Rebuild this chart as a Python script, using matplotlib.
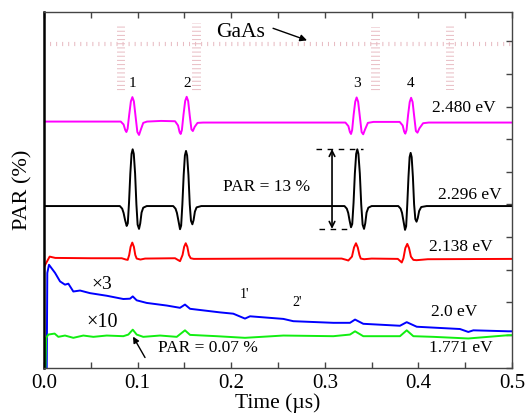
import matplotlib.pyplot as plt
from matplotlib.patches import Rectangle
from matplotlib.ticker import MultipleLocator

plt.rcParams['font.family'] = ['Liberation Serif', 'DejaVu Serif']
plt.rcParams['hatch.linewidth'] = 0.7

# GaAs reference (dotted, top)
gaas_t = [0.0, 0.5]
gaas_y = [9.93, 9.93]
# oscillation packets: centre time, bottom, top
gaas_pk_t = [0.082, 0.163, 0.354, 0.434]
gaas_pk_lo = [8.44, 8.41, 8.44, 8.50]
gaas_pk_hi = [10.49, 10.55, 10.43, 10.49]

# 2.480 eV (magenta)
m_t = [0.0, 0.06,
       0.082, 0.0850, 0.0868, 0.0880, 0.0893, 0.0910, 0.0928, 0.0944, 0.0960,
       0.0978, 0.0997, 0.1015, 0.1035, 0.106, 0.110, 0.125,
       0.140, 0.1432, 0.1448, 0.1460, 0.1473, 0.1490, 0.1508, 0.1524, 0.1540,
       0.1557, 0.1575, 0.1590, 0.1610, 0.164, 0.170, 0.25,
       0.322, 0.3252, 0.3268, 0.3280, 0.3292, 0.3308, 0.3325, 0.3340, 0.3356,
       0.3374, 0.3393, 0.3410, 0.3430, 0.346, 0.352, 0.37,
       0.380, 0.3832, 0.3848, 0.3860, 0.3873, 0.3890, 0.3907, 0.3922, 0.3938,
       0.3955, 0.3973, 0.3990, 0.4010, 0.405, 0.411, 0.5]
m_y = [7.54, 7.54,
       7.54, 7.45, 7.28, 7.22, 7.32, 7.75, 8.16, 8.29, 8.16,
       7.70, 7.22, 7.13, 7.30, 7.50, 7.54, 7.56,
       7.55, 7.42, 7.22, 7.16, 7.28, 7.75, 8.17, 8.30, 8.17,
       7.72, 7.30, 7.25, 7.38, 7.50, 7.51, 7.51,
       7.51, 7.40, 7.22, 7.16, 7.28, 7.75, 8.15, 8.28, 8.15,
       7.70, 7.22, 7.15, 7.30, 7.50, 7.53, 7.53,
       7.53, 7.42, 7.23, 7.17, 7.28, 7.75, 8.14, 8.27, 8.14,
       7.70, 7.25, 7.20, 7.33, 7.49, 7.51, 7.51]

# 2.296 eV (black)
k_t = [0.0,
       0.081, 0.0835, 0.0850, 0.0866, 0.0883, 0.0895, 0.0908, 0.0922, 0.0935, 0.0947,
       0.0959, 0.0973, 0.0987, 0.1000, 0.1015, 0.1028, 0.1042, 0.1060, 0.1097,
       0.138, 0.1405, 0.1420, 0.1436, 0.1453, 0.1465, 0.1478, 0.1492, 0.1505, 0.1517,
       0.1529, 0.1543, 0.1557, 0.1570, 0.1585, 0.1598, 0.1612, 0.1630, 0.168,
       0.3210, 0.3235, 0.3250, 0.3265, 0.3280, 0.3293, 0.3307, 0.3321, 0.3335, 0.3347,
       0.3359, 0.3374, 0.3389, 0.3404, 0.3419, 0.3432, 0.3446, 0.3465, 0.350,
       0.3785, 0.3810, 0.3825, 0.3841, 0.3857, 0.3869, 0.3881, 0.3894, 0.3906, 0.3917,
       0.3928, 0.3941, 0.3954, 0.3967, 0.3980, 0.3993, 0.4008, 0.4030, 0.4088,
       0.5]
k_y = [4.95,
       4.95, 4.87, 4.74, 4.52, 4.34, 4.42, 5.05, 5.95, 6.55, 6.69,
       6.55, 5.95, 5.00, 4.38, 4.25, 4.42, 4.75, 4.90, 4.95,
       4.95, 4.87, 4.74, 4.50, 4.24, 4.35, 5.00, 5.90, 6.50, 6.64,
       6.50, 5.90, 5.00, 4.50, 4.39, 4.52, 4.78, 4.91, 4.95,
       4.95, 4.87, 4.74, 4.50, 4.30, 4.40, 5.05, 5.95, 6.55, 6.69,
       6.55, 5.95, 5.00, 4.38, 4.25, 4.42, 4.75, 4.90, 4.95,
       4.95, 4.87, 4.74, 4.48, 4.22, 4.33, 5.00, 5.85, 6.45, 6.58,
       6.45, 5.85, 5.00, 4.55, 4.47, 4.58, 4.80, 4.92, 4.95,
       4.95]

# 2.138 eV (red)
r_t = [0.0003, 0.006, 0.012, 0.05,
       0.083, 0.0875, 0.0894, 0.0910, 0.0925, 0.0943, 0.0960, 0.0975, 0.0990, 0.103, 0.108,
       0.140, 0.1435, 0.1453, 0.1480, 0.1497, 0.1514, 0.1531, 0.1548, 0.1567, 0.160, 0.25,
       0.318, 0.3230, 0.3251, 0.3290, 0.3312, 0.3333, 0.3352, 0.3370, 0.3384, 0.342, 0.35,
       0.378, 0.3822, 0.3840, 0.3860, 0.3881, 0.3900, 0.3920, 0.3946, 0.398, 0.41, 0.5]
r_y = [3.10, 3.40, 3.36, 3.35,
       3.35, 3.31, 3.30, 3.45, 3.70, 3.83, 3.70, 3.45, 3.34, 3.31, 3.34,
       3.35, 3.29, 3.26, 3.45, 3.70, 3.81, 3.70, 3.45, 3.35, 3.33, 3.34,
       3.34, 3.30, 3.28, 3.40, 3.68, 3.81, 3.68, 3.45, 3.34, 3.32, 3.34,
       3.33, 3.22, 3.35, 3.66, 3.79, 3.66, 3.40, 3.30, 3.29, 3.32, 3.33]

# 2.0 eV (blue, x3)
b_t = [0.0028, 0.0035, 0.0053, 0.0118, 0.0171, 0.0224, 0.026, 0.0313, 0.0385,
       0.0491, 0.067, 0.0847, 0.0919, 0.0948, 0.099, 0.1097, 0.1311, 0.1453,
       0.1506, 0.156, 0.188, 0.2022, 0.2147, 0.2201, 0.2557, 0.2663, 0.3091,
       0.3269, 0.3323, 0.3411, 0.3803, 0.3875, 0.3982, 0.4444, 0.4533, 0.4587,
       0.496, 0.5]
b_y = [-0.5, 2.90, 3.15, 2.90, 2.64, 2.54, 2.57, 2.33, 2.36,
       2.28, 2.20, 2.10, 2.11, 2.18, 2.06, 1.98, 1.90, 1.83,
       1.93, 1.80, 1.69, 1.65, 1.50, 1.57, 1.49, 1.42, 1.37,
       1.37, 1.47, 1.34, 1.28, 1.39, 1.25, 1.18, 1.09, 1.14,
       1.11, 1.11]

# 1.771 eV (green, x10)
g_t = [0.0012, 0.0022, 0.0045, 0.0113, 0.0153, 0.0224, 0.0313, 0.042, 0.0527,
       0.067, 0.0847, 0.0901, 0.0948, 0.099, 0.106, 0.124, 0.1418, 0.1506,
       0.156, 0.1845, 0.2147, 0.2557, 0.3091, 0.3269, 0.3323, 0.3411, 0.3803,
       0.3875, 0.3946, 0.416, 0.4533, 0.496, 0.5]
g_y = [-0.5, 0.90, 1.01, 1.04, 0.94, 0.98, 0.91, 0.98, 0.94,
       0.98, 0.96, 1.01, 1.16, 1.01, 0.94, 0.98, 0.94, 1.14,
       1.00, 0.96, 0.91, 0.98, 0.96, 1.01, 1.11, 0.96, 0.96,
       1.14, 0.96, 0.94, 0.89, 0.99, 0.99]

res_t = [0.094, 0.1528, 0.3344, 0.392]
res_lbl = ['1', '2', '3', '4']

fig = plt.figure(figsize=(5.26, 4.19), dpi=100)
ax = fig.add_axes([0.0837, 0.1229, 0.8897, 0.8485])

pink = '#e8bcc3'
ax.plot(gaas_t, gaas_y, color=pink, lw=3, dashes=(0.25, 1.2), solid_capstyle='butt',
        dash_capstyle='butt')
for t0, lo, hi in zip(gaas_pk_t, gaas_pk_lo, gaas_pk_hi):
    ax.add_patch(Rectangle((t0 - 0.0045, lo), 0.009, hi - lo, facecolor='none',
                           edgecolor=pink, lw=0, hatch='----'))

ax.plot(m_t, m_y, color='#ff00ff', lw=1.4)
ax.plot(k_t, k_y, color='black', lw=1.4)
ax.plot(r_t, r_y, color='#ff0000', lw=1.4)
ax.plot(b_t, b_y, color='#0000ff', lw=1.4)
ax.plot(g_t, g_y, color='#11ee11', lw=1.4)

fs = 12.5
for t0, s in zip(res_t, res_lbl):
    ax.text(t0, 8.72, s, fontsize=11, ha='center', va='center')
ax.text(0.2105, 10.27, 'GaAs', fontsize=15.5, ha='center', va='center')
ax.annotate('', xy=(0.281, 10.03), xytext=(0.2447, 10.40),
            arrowprops=dict(arrowstyle='-|>', color='k', lw=1, mutation_scale=10,
                            shrinkA=0, shrinkB=0))

ax.text(0.4487, 7.95, '2.480 eV', fontsize=fs, ha='center', va='center')
ax.text(0.4546, 5.29, '2.296 eV', fontsize=fs, ha='center', va='center')
ax.text(0.4455, 3.70, '2.138 eV', fontsize=fs, ha='center', va='center')
ax.text(0.4380, 1.71, '2.0 eV', fontsize=fs, ha='center', va='center')
ax.text(0.4455, 0.61, '1.771 eV', fontsize=fs, ha='center', va='center')

ax.text(0.2382, 5.535, 'PAR = 13 %', fontsize=fs, ha='center', va='center')
ax.plot([0.2906, 0.3405], [6.70, 6.70], color='k', lw=1, dashes=(4, 4))
ax.plot([0.2938, 0.3280], [4.25, 4.25], color='k', lw=1, dashes=(4, 4))
ax.annotate('', xy=(0.3077, 4.25), xytext=(0.3077, 6.70),
            arrowprops=dict(arrowstyle='<->', color='k', lw=1.2, shrinkA=0, shrinkB=0))

ax.text(0.062, 2.54, '×3', fontsize=14, ha='center', va='center')
ax.text(0.062, 1.376, '×10', fontsize=14.5, ha='center', va='center')
ax.text(0.2147, 2.23, "1'", fontsize=10, ha='center', va='center')
ax.text(0.270, 1.99, "2'", fontsize=10, ha='center', va='center')
ax.text(0.1747, 0.61, 'PAR = 0.07 %', fontsize=fs, ha='center', va='center')
ax.annotate('', xy=(0.0951, 0.948), xytext=(0.1079, 0.306),
            arrowprops=dict(arrowstyle='-|>', color='k', lw=1, mutation_scale=9,
                            shrinkA=0, shrinkB=0))

ax.set_xlim(0, 0.5)
ax.set_ylim(0, 10.9)
ax.xaxis.set_major_locator(MultipleLocator(0.1))
ax.xaxis.set_minor_locator(MultipleLocator(0.05))
ax.yaxis.set_major_locator(MultipleLocator(1))
ax.tick_params(axis='x', which='both', direction='in', top=True, length=4,
               width=1, color='#444444', labelsize=15, pad=5)
ax.tick_params(axis='y', which='both', direction='in', left=False, right=True,
               labelleft=False, length=4, width=1, color='#444444')
ax.xaxis.set_major_formatter(plt.FuncFormatter(lambda v, p: f'{v:.1f}'))
for s in ['top', 'right', 'bottom']:
    ax.spines[s].set_color('#444444')
    ax.spines[s].set_linewidth(1)
ax.spines['left'].set_linewidth(1.8)

ax.set_xlabel('Time (µs)', fontsize=15.5, labelpad=0)
ax.set_ylabel('PAR (%)', fontsize=16, labelpad=8)

fig.savefig('out.png', dpi=100)
